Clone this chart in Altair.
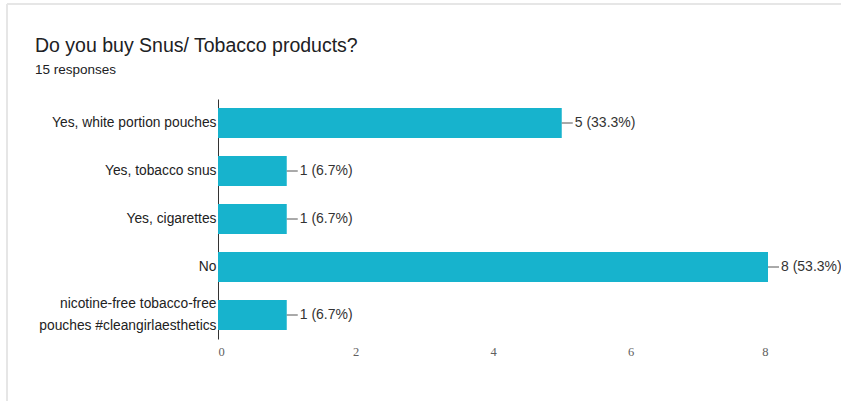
import altair as alt
import pandas as pd

categories = ["Yes, white portion pouches", "Yes, tobacco snus", "Yes, cigarettes", "No",
              "nicotine-free tobacco-free|pouches #cleangirlaesthetics"]
counts = [5, 1, 1, 8, 1]
percents = ["33.3%", "6.7%", "6.7%", "53.3%", "6.7%"]
x_ticks = [0, 2, 4, 6, 8]
title_text = "Do you buy Snus/ Tobacco products?"
subtitle_text = "15 responses"

df = pd.DataFrame({
    "cat": categories,
    "count": counts,
    "label": [f"{c} ({p})" for c, p in zip(counts, percents)],
})
tdf = pd.DataFrame({"t": [title_text], "s": [subtitle_text]})

FONT = "Liberation Sans"
BAR = "#17b3cd"

y_enc = alt.Y("cat:N", sort=categories, title=None,
              scale=alt.Scale(paddingInner=0.375, paddingOuter=0.1875),
              axis=alt.Axis(labelExpr="split(datum.label, '|')", labelFont=FONT, labelFontSize=13.8,
                            labelColor="#222222", labelLineHeight=22, ticks=False,
                            labelOffset={"condition": {"test": "indexof(datum.value, '|') >= 0",
                                                       "value": -11}, "value": 0},
                            domainColor="#333333", domainWidth=1, labelPadding=2, labelLimit=300))
x_enc = alt.X("count:Q", title=None,
              scale=alt.Scale(domain=[0, 8], nice=False),
              axis=alt.Axis(values=x_ticks, format="d", grid=False, domain=False, ticks=False,
                            labelFont="Liberation Serif", labelFontSize=12.5, labelColor="#5f5f5f",
                            labelPadding=6))

bars = alt.Chart(df).mark_bar(color=BAR).encode(x=x_enc, y=y_enc)
leaders = alt.Chart(df).mark_rule(color="#555555", x2Offset=11, strokeWidth=1).encode(
    x="count:Q", x2="count:Q", y=alt.Y("cat:N", sort=categories, bandPosition=0.5))
texts = alt.Chart(df).mark_text(align="left", baseline="middle", dx=13, font=FONT,
                                fontSize=14, color="#333333").encode(
    x="count:Q", y=alt.Y("cat:N", sort=categories), text="label:N")

title_mark = alt.Chart(tdf).mark_text(align="left", baseline="alphabetic", font=FONT,
                                      fontSize=19.5, color="#202124").encode(
    x=alt.value(-183), y=alt.value(-47), text="t:N")
subtitle_mark = alt.Chart(tdf).mark_text(align="left", baseline="alphabetic", font=FONT,
                                         fontSize=13.5, color="#202124").encode(
    x=alt.value(-183), y=alt.value(-25), text="s:N")

border_top = alt.Chart(tdf).mark_rule(color="#e6e6e6", strokeWidth=2).encode(
    x=alt.value(-211), x2=alt.value(623), y=alt.value(-95))
border_left = alt.Chart(tdf).mark_rule(color="#e6e6e6", strokeWidth=2).encode(
    x=alt.value(-211), y=alt.value(-95), y2=alt.value(302))

chart = alt.layer(border_top, border_left, title_mark, subtitle_mark, bars, leaders, texts).properties(
    width=550, height=240,
    autosize=alt.AutoSizeParams(type="none"),
    padding={"left": 218, "top": 99, "right": 73, "bottom": 62},
    background="white",
).configure_view(stroke=None)

chart.save("out.html", embed_options={"renderer": "svg", "actions": False})
